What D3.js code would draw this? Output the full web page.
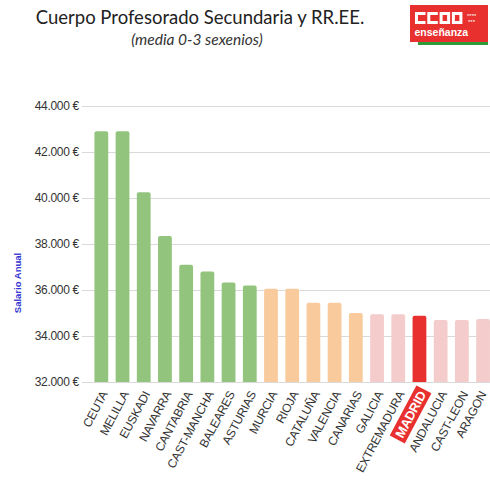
<!DOCTYPE html>
<html>
<head>
<meta charset="utf-8">
<script src="https://cdn.jsdelivr.net/npm/d3@7"></script>
<style>
  body { margin: 0; background: #fff; }
  svg { display: block; }
  .tick text { font-family: 'Liberation Sans', Arial, sans-serif; }
</style>
</head>
<body>
<div id="chart"></div>
<script>
let regions = ['CEUTA', 'MELILLA', 'EUSKADI', 'NAVARRA', 'CANTABRIA', 'CAST-MANCHA',
  'BALEARES', 'ASTURIAS', 'MURCIA', 'RIOJA', 'CATALUÑA', 'VALENCIA', 'CANARIAS',
  'GALICIA', 'EXTREMADURA', 'MADRID', 'ANDALUCIA', 'CAST-LEON', 'ARAGON']
let salaries = [42900, 42900, 40250, 38350, 37100, 36800, 36330, 36200, 36050,
  36050, 35450, 35450, 35000, 34950, 34950, 34880, 34700, 34700, 34740]
// colour group per region: top, middle, low, madrid
let groups = ['g', 'g', 'g', 'g', 'g', 'g', 'g', 'g', 'o', 'o', 'o', 'o', 'o',
  'p', 'p', 'm', 'p', 'p', 'p']
let yTicks = [32000, 34000, 36000, 38000, 40000, 42000, 44000]

let colors = { g: '#93c47d', o: '#f9cb9c', p: '#f4cccc', m: '#e8302f' }
let width = 490
let height = 486

let svg = d3.select('#chart').append('svg')
  .attr('width', width)
  .attr('height', height)

// header
svg.append('text')
  .attr('x', 200)
  .attr('y', 24)
  .attr('text-anchor', 'middle')
  .style('font-family', 'Lato, sans-serif')
  .style('font-size', '18.5px')
  .style('fill', '#222')
  .text('Cuerpo Profesorado Secundaria y RR.EE.')

svg.append('text')
  .attr('x', 197)
  .attr('y', 45)
  .attr('text-anchor', 'middle')
  .style('font-family', 'Lato, sans-serif')
  .style('font-style', 'italic')
  .style('font-size', '15.5px')
  .style('fill', '#333')
  .text('(media 0-3 sexenios)')

// logo
let logo = svg.append('g').attr('transform', 'translate(410,5)')
logo.append('rect').attr('x', 8).attr('y', 36).attr('width', 70).attr('height', 4).attr('fill', '#2e9a3a')
logo.append('rect').attr('width', 78).attr('height', 37).attr('fill', '#e8302f')

// block letters C C O O
let letterW = 10.5
let letterH = 12
let th = 3
let letters = ['C', 'C', 'O', 'O']
logo.selectAll('.letter')
  .data(letters)
  .enter().append('path')
  .attr('class', 'letter')
  .attr('fill', '#fff')
  .attr('fill-rule', 'evenodd')
  .attr('d', (d, i) => {
    let x0 = 5 + i * (letterW + 1.8)
    let y0 = 7
    let outer = 'M' + x0 + ',' + y0 + 'h' + letterW + 'v' + letterH + 'h' + (-letterW) + 'Z'
    let innerW = d === 'C' ? letterW - th : letterW - 2 * th
    let inner = 'M' + (x0 + th) + ',' + (y0 + th) + 'h' + innerW + 'v' + (letterH - 2 * th) + 'h' + (-innerW) + 'Z'
    return outer + inner
  })
logo.append('text')
  .attr('x', 57).attr('y', 13)
  .style('font-family', 'sans-serif')
  .style('font-size', '6px')
  .style('fill', '#fff')
  .text('****')
logo.append('text')
  .attr('x', 58).attr('y', 19)
  .style('font-family', 'sans-serif')
  .style('font-size', '6px')
  .style('fill', '#fff')
  .text('***')
logo.append('text')
  .attr('x', 4.5).attr('y', 31)
  .style('font-family', '"Liberation Sans", Arial, sans-serif')
  .style('font-weight', 'bold')
  .style('font-size', '10.5px')
  .style('fill', '#fff')
  .text('enseñanza')

// scales
let x = d3.scaleBand()
  .domain(regions)
  .range([87, 87 + regions.length * 21.6])
  .padding(0.35)

let y = d3.scaleLinear()
  .domain([32000, 44000])
  .range([382, 106])

let fmt = (v) => d3.format(',')(v).replace(',', '.') + ' €'

// gridlines + y labels
let yAxis = svg.append('g')
  .attr('transform', 'translate(82,0)')
  .call(d3.axisLeft(y).tickValues(yTicks).tickSize(0).tickPadding(3).tickFormat(fmt))
yAxis.select('.domain').remove()
yAxis.selectAll('.tick text')
  .style('font-size', '12px')
  .style('letter-spacing', '-0.3px')
  .style('fill', '#333')
yAxis.selectAll('.tick').append('line')
  .attr('x1', 0)
  .attr('x2', width)
  .attr('stroke', '#d9d9d9')
  .attr('stroke-width', 1.2)

svg.append('text')
  .attr('transform', 'translate(21,283)rotate(-90)')
  .attr('text-anchor', 'middle')
  .style('font-family', '"Liberation Sans", Arial, sans-serif')
  .style('font-weight', 'bold')
  .style('font-size', '9.5px')
  .style('fill', '#3535d0')
  .text('Salario Anual')

// bars
let data = regions.map((r, i) => ({ name: r, v: salaries[i], g: groups[i] }))

svg.selectAll('.bar')
  .data(data)
  .enter().append('path')
  .attr('class', 'bar')
  .attr('fill', (d) => colors[d.g])
  .attr('d', (d) => {
    let x0 = x(d.name)
    let w = x.bandwidth()
    let y0 = y(d.v)
    let y1 = y(32000)
    let r = 2
    return 'M' + x0 + ',' + y1 + 'V' + (y0 + r) + 'Q' + x0 + ',' + y0 + ' ' + (x0 + r) + ',' + y0 +
      'H' + (x0 + w - r) + 'Q' + (x0 + w) + ',' + y0 + ' ' + (x0 + w) + ',' + (y0 + r) + 'V' + y1 + 'Z'
  })

// x labels (last one kept inside the frame)
let labelX = (d) => Math.min(x(d.name) + x.bandwidth() / 2 + 3, width - 7)
let labels = svg.selectAll('.xlab')
  .data(data)
  .enter().append('g')
  .attr('class', 'xlab')
  .attr('transform', (d) => 'translate(' + labelX(d) + ',392)rotate(-62)')

labels.each(function (d) {
  let g = d3.select(this)
  let isMadrid = d.g === 'm'
  let t = g.append('text')
    .attr('text-anchor', 'end')
    .attr('dy', '0.35em')
    .style('font-family', '"Liberation Sans", Arial, sans-serif')
    .style('font-size', isMadrid ? '13px' : '12px')
    .style('font-weight', isMadrid ? 'bold' : 'normal')
    .style('letter-spacing', '-0.2px')
    .style('fill', isMadrid ? '#fff' : '#333')
    .text(d.name)
  if (isMadrid) {
    let bb = t.node().getBBox()
    g.insert('rect', 'text')
      .attr('x', bb.x - 3)
      .attr('y', bb.y - 1)
      .attr('width', bb.width + 6)
      .attr('height', bb.height + 2)
      .attr('fill', colors.m)
  }
})
</script>
</body>
</html>
